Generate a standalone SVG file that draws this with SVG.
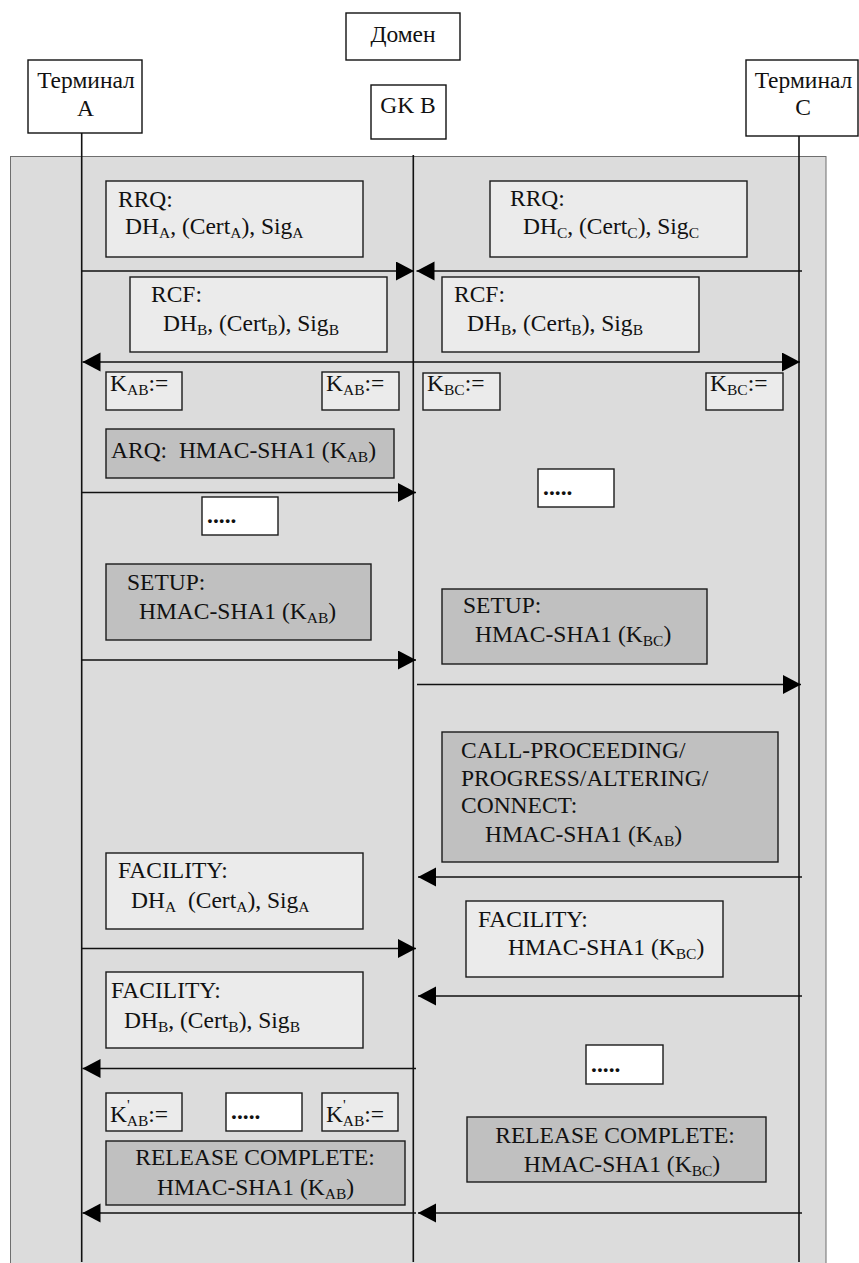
<svg xmlns="http://www.w3.org/2000/svg" width="859" height="1263" viewBox="0 0 859 1263">
  <style>
    .t { font-family: "Liberation Serif", "DejaVu Serif", serif; font-size: 23.5px; fill: #111; white-space: pre; }
    .c { text-anchor: middle; }
    .s { font-size: 15.5px; }
    .dots { font-weight: bold; }
    .hd { fill: #ffffff; stroke: #111; stroke-width: 1.4; }
    .lt { fill: #ebebeb; stroke: #1a1a1a; stroke-width: 1.4; }
    .dk { fill: #c0c0c0; stroke: #1a1a1a; stroke-width: 1.4; }
    .wh { fill: #ffffff; stroke: #1a1a1a; stroke-width: 1.4; }
    .life { stroke: #111; stroke-width: 1.6; fill: none; }
    .msg { stroke: #111; stroke-width: 1.5; fill: none; marker-end: url(#head); }
    .both { marker-start: url(#head); }
  </style>
  <defs>
    <marker id="head" markerUnits="userSpaceOnUse" markerWidth="19" markerHeight="20" refX="18" refY="9.5" orient="auto-start-reverse" viewBox="0 0 19 20">
      <path d="M0,0 L18,9.5 L0,19 Z" fill="#000"/>
    </marker>
  </defs>

  <!-- domain panel -->
  <rect x="10.5" y="156.5" width="815.5" height="1110" fill="#dcdcdc" stroke="#6e6e6e" stroke-width="1"/>

  <!-- header nodes -->
  <g id="domain">
    <rect class="hd" x="346" y="13" width="114" height="47"/>
    <text class="t c" x="403" y="42" font-family="Liberation Serif, serif">Домен</text>
  </g>
  <g id="gk-b">
    <rect class="hd" x="371" y="85" width="75" height="54"/>
    <text class="t c" x="408" y="113">GK B</text>
  </g>
  <g id="terminal-a">
    <rect class="hd" x="28" y="60" width="114" height="73"/>
    <text class="t c" x="86" y="88">Терминал</text>
    <text class="t c" x="85.5" y="116">A</text>
  </g>
  <g id="terminal-c">
    <rect class="hd" x="746" y="60" width="112" height="76"/>
    <text class="t c" x="803.5" y="88">Терминал</text>
    <text class="t c" x="803" y="115">C</text>
  </g>

  <!-- lifelines -->
  <g id="lifelines">
    <line class="life" x1="81.7" y1="133" x2="81.7" y2="1262"/>
    <line class="life" x1="413.3" y1="155" x2="413.3" y2="1262"/>
    <line class="life" x1="799" y1="136" x2="799" y2="1262"/>
  </g>

  <!-- message arrows -->
  <g id="connectors">
    <line class="msg" x1="81.7" y1="271" x2="414" y2="271"/>
    <line class="msg" x1="802" y1="271" x2="416.5" y2="271"/>
    <line class="msg both" x1="82.5" y1="362" x2="800" y2="362"/>
    <line class="msg" x1="81.7" y1="492.5" x2="416" y2="492.5"/>
    <line class="msg" x1="81.7" y1="660" x2="416" y2="660"/>
    <line class="msg" x1="417" y1="684.5" x2="801" y2="684.5"/>
    <line class="msg" x1="802" y1="877" x2="418" y2="877"/>
    <line class="msg" x1="81.7" y1="948.5" x2="416" y2="948.5"/>
    <line class="msg" x1="802" y1="996" x2="418" y2="996"/>
    <line class="msg" x1="416" y1="1068.5" x2="82.5" y2="1068.5"/>
    <line class="msg" x1="416" y1="1213" x2="82.5" y2="1213"/>
    <line class="msg" x1="802" y1="1213" x2="418" y2="1213"/>
  </g>

  <!-- registration -->
  <g id="rrq-a">
    <rect class="lt" x="106" y="181" width="257" height="76"/>
    <text class="t" x="118" y="207">RRQ:</text>
    <text class="t" x="125" y="234">DH<tspan class="s" dy="4">A</tspan><tspan dy="-4">, (Cert</tspan><tspan class="s" dy="4">A</tspan><tspan dy="-4">), Sig</tspan><tspan class="s" dy="4">A</tspan></text>
  </g>
  <g id="rrq-c">
    <rect class="lt" x="490" y="181" width="257" height="76"/>
    <text class="t" x="510" y="206">RRQ:</text>
    <text class="t" x="523" y="234">DH<tspan class="s" dy="4">C</tspan><tspan dy="-4">, (Cert</tspan><tspan class="s" dy="4">C</tspan><tspan dy="-4">), Sig</tspan><tspan class="s" dy="4">C</tspan></text>
  </g>
  <g id="rcf-a">
    <rect class="lt" x="130" y="277" width="257" height="75"/>
    <text class="t" x="151" y="302">RCF:</text>
    <text class="t" x="163" y="331">DH<tspan class="s" dy="4">B</tspan><tspan dy="-4">, (Cert</tspan><tspan class="s" dy="4">B</tspan><tspan dy="-4">), Sig</tspan><tspan class="s" dy="4">B</tspan></text>
  </g>
  <g id="rcf-c">
    <rect class="lt" x="442" y="277" width="257" height="75"/>
    <text class="t" x="454" y="302">RCF:</text>
    <text class="t" x="467" y="331">DH<tspan class="s" dy="4">B</tspan><tspan dy="-4">, (Cert</tspan><tspan class="s" dy="4">B</tspan><tspan dy="-4">), Sig</tspan><tspan class="s" dy="4">B</tspan></text>
  </g>

  <!-- derived keys -->
  <g id="kab-a">
    <rect class="lt" x="106" y="372" width="76" height="38"/>
    <text class="t" x="110" y="391">K<tspan class="s" dy="4">AB</tspan><tspan dy="-4">:=</tspan></text>
  </g>
  <g id="kab-b">
    <rect class="lt" x="322" y="372" width="77" height="38"/>
    <text class="t" x="326" y="391">K<tspan class="s" dy="4">AB</tspan><tspan dy="-4">:=</tspan></text>
  </g>
  <g id="kbc-b">
    <rect class="lt" x="423" y="373" width="77" height="37"/>
    <text class="t" x="427" y="391">K<tspan class="s" dy="4">BC</tspan><tspan dy="-4">:=</tspan></text>
  </g>
  <g id="kbc-c">
    <rect class="lt" x="706" y="373" width="77" height="37"/>
    <text class="t" x="710" y="391">K<tspan class="s" dy="4">BC</tspan><tspan dy="-4">:=</tspan></text>
  </g>

  <!-- admission -->
  <g id="arq">
    <rect class="dk" x="106" y="429" width="288" height="49"/>
    <text class="t" x="111" y="458">ARQ:  HMAC-SHA1 (K<tspan class="s" dy="4">AB</tspan><tspan dy="-4">)</tspan></text>
  </g>
  <g id="gap-1">
    <rect class="wh" x="202" y="497" width="76" height="38"/>
    <text class="t dots" x="207" y="523">.....</text>
  </g>
  <g id="gap-2">
    <rect class="wh" x="538" y="469" width="76" height="38"/>
    <text class="t dots" x="543" y="495">.....</text>
  </g>

  <!-- call setup -->
  <g id="setup-a">
    <rect class="dk" x="106" y="564" width="265" height="76"/>
    <text class="t" x="127" y="590">SETUP:</text>
    <text class="t" x="139" y="619">HMAC-SHA1 (K<tspan class="s" dy="4">AB</tspan><tspan dy="-4">)</tspan></text>
  </g>
  <g id="setup-c">
    <rect class="dk" x="442" y="589" width="265" height="75"/>
    <text class="t" x="463" y="613">SETUP:</text>
    <text class="t" x="475" y="642">HMAC-SHA1 (K<tspan class="s" dy="4">BC</tspan><tspan dy="-4">)</tspan></text>
  </g>
  <g id="call-proceeding">
    <rect class="dk" x="442" y="732" width="336" height="130"/>
    <text class="t" x="461" y="758">CALL-PROCEEDING/</text>
    <text class="t" x="461" y="786">PROGRESS/ALTERING/</text>
    <text class="t" x="461" y="813">CONNECT:</text>
    <text class="t" x="485" y="842">HMAC-SHA1 (K<tspan class="s" dy="4">AB</tspan><tspan dy="-4">)</tspan></text>
  </g>

  <!-- facility exchange -->
  <g id="facility-a">
    <rect class="lt" x="106" y="853" width="257" height="76"/>
    <text class="t" x="118" y="878">FACILITY:</text>
    <text class="t" x="131" y="908">DH<tspan class="s" dy="4">A</tspan><tspan dy="-4">  (Cert</tspan><tspan class="s" dy="4">A</tspan><tspan dy="-4">), Sig</tspan><tspan class="s" dy="4">A</tspan></text>
  </g>
  <g id="facility-c">
    <rect class="lt" x="466" y="901" width="257" height="76"/>
    <text class="t" x="478" y="927">FACILITY:</text>
    <text class="t" x="508" y="955">HMAC-SHA1 (K<tspan class="s" dy="4">BC</tspan><tspan dy="-4">)</tspan></text>
  </g>
  <g id="facility-b">
    <rect class="lt" x="106" y="972" width="257" height="76"/>
    <text class="t" x="111" y="998">FACILITY:</text>
    <text class="t" x="124" y="1028">DH<tspan class="s" dy="4">B</tspan><tspan dy="-4">, (Cert</tspan><tspan class="s" dy="4">B</tspan><tspan dy="-4">), Sig</tspan><tspan class="s" dy="4">B</tspan></text>
  </g>
  <g id="gap-3">
    <rect class="wh" x="586" y="1045" width="77" height="39"/>
    <text class="t dots" x="591" y="1072">.....</text>
  </g>

  <!-- renewed keys -->
  <g id="kab2-a">
    <rect class="lt" x="106" y="1093" width="76" height="38"/>
    <text class="t" x="110" y="1122">K<tspan class="s" dy="-12">'</tspan><tspan class="s" dx="-3" dy="16">AB</tspan><tspan dy="-4">:=</tspan></text>
  </g>
  <g id="gap-4">
    <rect class="wh" x="226" y="1093" width="76" height="38"/>
    <text class="t dots" x="231" y="1119">.....</text>
  </g>
  <g id="kab2-b">
    <rect class="lt" x="322" y="1093" width="76" height="38"/>
    <text class="t" x="326" y="1122">K<tspan class="s" dy="-12">'</tspan><tspan class="s" dx="-3" dy="16">AB</tspan><tspan dy="-4">:=</tspan></text>
  </g>

  <!-- release -->
  <g id="release-a">
    <rect class="dk" x="106" y="1141" width="299" height="64"/>
    <text class="t c" x="255" y="1165">RELEASE COMPLETE:</text>
    <text class="t c" x="255.5" y="1195">HMAC-SHA1 (K<tspan class="s" dy="4">AB</tspan><tspan dy="-4">)</tspan></text>
  </g>
  <g id="release-c">
    <rect class="dk" x="467" y="1117" width="299" height="65"/>
    <text class="t c" x="615" y="1143">RELEASE COMPLETE:</text>
    <text class="t c" x="622" y="1172">HMAC-SHA1 (K<tspan class="s" dy="4">BC</tspan><tspan dy="-4">)</tspan></text>
  </g>
</svg>
